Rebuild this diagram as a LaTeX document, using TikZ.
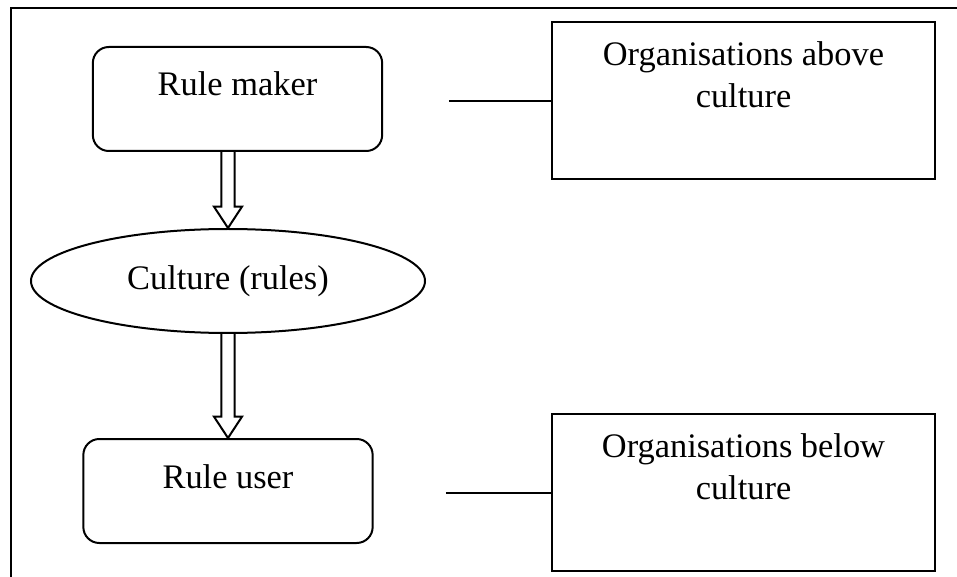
\documentclass[tikz,border=0pt]{standalone}
\usepackage{fontspec}
\setmainfont{Liberation Serif}
\usetikzlibrary{shapes.geometric,calc}
\tikzstyle{roundbox}=[rectangle, rounded corners=12pt, draw=black, line width=1.5pt, minimum width=217pt, inner xsep=0pt, inner ysep=0pt, text height=36.75pt, text depth=41.25pt, anchor=north]
\tikzstyle{orgbox}=[rectangle, draw=black, line width=1.8pt, minimum width=287.25pt, inner xsep=0pt, inner ysep=0pt, align=center, text height=64pt, text depth=53.5pt, anchor=north]
\tikzstyle{cultureoval}=[ellipse, draw=black, line width=1.5pt, minimum width=295.5pt, minimum height=78pt, inner sep=0pt]
\tikzstyle{link}=[draw=black, line width=1.5pt]
\tikzstyle{hollowarrow}=[draw=black, line width=1.5pt, line join=miter, to path={
  let \p1=(\tikztostart), \p2=(\tikztotarget) in
  (\x2-4.9pt,\y1) -- (\x2-4.9pt,\y2+16pt) -- (\x2-10.5pt,\y2+16pt) -- (\x2,\y2)
  -- (\x2+10.5pt,\y2+16pt) -- (\x2+4.9pt,\y2+16pt) -- (\x2+4.9pt,\y1)}]

\begin{document}
\begin{tikzpicture}[x=0.75pt, y=-0.75pt, font=\fontsize{25.8}{31.5}\selectfont]
	\useasboundingbox (0,0) rectangle (957,577);
	\draw [line width=2pt] (11,577) -- (11,8) -- (957,8);

	\node [style=roundbox] (maker) at (237.5,46) {Rule maker};
	\node [style=cultureoval] (culture) at (228,281) {Culture (rules)};
	\node [style=roundbox] (user) at (228,438) {Rule user};
	\node [style=orgbox] (above) at (743.5,21) {Organisations above\\culture};
	\node [style=orgbox] (below) at (743.5,413) {Organisations below\\culture};
	\coordinate (aboveend) at ($(above.west)+(-102,0)$);
	\coordinate (belowend) at ($(below.west)+(-105,0)$);

	\draw [style=hollowarrow] (culture.north |- maker.south) to (culture.north);
	\draw [style=hollowarrow] (culture.south) to (user.north);
	\draw [style=link] (aboveend) -- (above.west);
	\draw [style=link] (belowend) -- (below.west);
\end{tikzpicture}
\end{document}
